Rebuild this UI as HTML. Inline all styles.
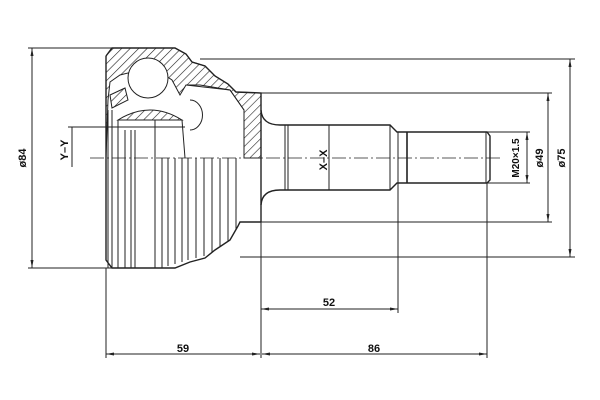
<!DOCTYPE html>
<html><head><style>html,body{margin:0;padding:0;background:#fff}svg{display:block}</style></head><body>
<svg width="600" height="400" viewBox="0 0 600 400" xmlns="http://www.w3.org/2000/svg" font-family="Liberation Sans, sans-serif">
<defs>
<pattern id="h" width="6" height="6" patternUnits="userSpaceOnUse" patternTransform="rotate(45)">
<line x1="0" y1="0" x2="0" y2="6" stroke="#222" stroke-width="1.2"/></pattern>
<marker id="a" markerWidth="8" markerHeight="6" refX="8" refY="3" orient="auto-start-reverse" markerUnits="userSpaceOnUse"><path d="M0,1.5 L8,3 L0,4.5z" fill="#222"/></marker>
</defs>
<g stroke="#222" fill="none" stroke-width="1">
<!-- extension lines -->
<line x1="28" y1="48" x2="175" y2="48"/>
<line x1="28" y1="268" x2="175" y2="268"/>
<line x1="200" y1="59" x2="575" y2="59"/>
<line x1="261" y1="93" x2="552" y2="93"/>
<line x1="261" y1="222" x2="552" y2="222"/>
<line x1="240" y1="257" x2="575" y2="257"/>
<line x1="487" y1="132" x2="530" y2="132"/>
<line x1="487" y1="183" x2="530" y2="183"/>
<line x1="106" y1="268" x2="106" y2="358"/>
<line x1="261" y1="222" x2="261" y2="358"/>
<line x1="398" y1="183" x2="398" y2="313"/>
<line x1="487" y1="183" x2="487" y2="358"/>
<!-- dims -->
<line x1="32" y1="48" x2="32" y2="268" marker-start="url(#a)" marker-end="url(#a)"/>
<line x1="570" y1="59" x2="570" y2="257" marker-start="url(#a)" marker-end="url(#a)"/>
<line x1="548" y1="93" x2="548" y2="222" marker-start="url(#a)" marker-end="url(#a)"/>
<line x1="527" y1="132" x2="527" y2="183" marker-start="url(#a)" marker-end="url(#a)"/>
<line x1="261" y1="309" x2="398" y2="309" marker-start="url(#a)" marker-end="url(#a)"/>
<line x1="106" y1="354" x2="260" y2="354" marker-start="url(#a)" marker-end="url(#a)"/>
<line x1="262" y1="354" x2="487" y2="354" marker-start="url(#a)" marker-end="url(#a)"/>
<!-- Y-Y -->
<line x1="68" y1="127" x2="185" y2="127"/>
<line x1="72" y1="127" x2="72" y2="167"/>
<!-- centerline -->
<line x1="90" y1="158" x2="500" y2="158" stroke-dasharray="14,3,2,3" stroke-width="0.8"/>
<!-- body hatched section -->
<path d="M106,158 L106,56 L112,48 L175,48 L186,54 L192,62 L205,66 L215,76 L228,84 L236,92 L261,93 L261,158 L244,158 L244,110 L230,90 L200,85 L186,85 L180,95 L172,80 L160,72 L140,70 L120,75 L110,82 L108,100 L106,158z" fill="url(#h)"/>
<g stroke-width="1.4">
<path d="M106,56 L112,48 L175,48 L186,54 L192,62 L205,66 L215,76 L228,84 L236,92 L261,93 L261,222"/>
<path d="M106,56 L106,260 L112,268 L175,268 L190,262 L205,258 L215,250 L230,240 L238,226 L240,222 L261,222"/>
</g>
<path d="M186,85 L230,90 L244,110 L244,158"/>
<!-- ball -->
<circle cx="148" cy="78" r="20" fill="#fff"/>
<path d="M118,120 Q150,100 182,120 Z" fill="url(#h)"/>
<path d="M118,120 L182,120 L185,158"/>
<path d="M190,100 A10,12 0 0 1 190,130"/>
<path d="M110,95 L125,88 L128,100 L112,108 Z" fill="url(#h)"/>
<line x1="108" y1="110" x2="108" y2="268"/>
<line x1="112" y1="110" x2="112" y2="268"/>
<line x1="118" y1="120" x2="118" y2="268"/>
<line x1="125" y1="130" x2="125" y2="268"/>
<line x1="131" y1="130" x2="131" y2="268"/>
<line x1="135" y1="130" x2="135" y2="268"/>
<line x1="155" y1="120" x2="155" y2="268"/>
<line x1="162" y1="158" x2="162" y2="268"/>
<line x1="168" y1="158" x2="168" y2="266"/>
<line x1="175" y1="158" x2="175" y2="264"/>
<line x1="182" y1="158" x2="182" y2="262"/>
<line x1="188" y1="158" x2="188" y2="260"/>
<line x1="196" y1="158" x2="196" y2="258"/>
<line x1="204" y1="158" x2="204" y2="256"/>
<line x1="212" y1="158" x2="212" y2="252"/>
<line x1="220" y1="158" x2="220" y2="246"/>
<line x1="228" y1="158" x2="228" y2="242"/>
<line x1="236" y1="158" x2="236" y2="230"/>
<!-- shaft -->
<path d="M261,110 Q262,125 280,125 L390,125 L397,132 L487,132 L490,136 L490,180 L487,183 L397,183 L390,190 L280,190 Q262,190 261,205" stroke-width="1.4"/>
<line x1="285" y1="125" x2="285" y2="190"/>
<line x1="288" y1="125" x2="288" y2="190"/>
<line x1="329" y1="125" x2="329" y2="190"/>
<line x1="390" y1="125" x2="390" y2="190"/>
<line x1="398" y1="132" x2="398" y2="183"/>
<line x1="407" y1="132" x2="407" y2="183" stroke-width="1.6"/>
<line x1="486" y1="132" x2="486" y2="183"/>
</g>
<g fill="#111" font-size="11" font-weight="bold" text-anchor="middle">
<text x="183" y="352">59</text>
<text x="374" y="352">86</text>
<text x="329" y="306">52</text>
<text transform="translate(26,158) rotate(-90)">ø84</text>
<text transform="translate(68,150) rotate(-90)">Y–Y</text>
<text transform="translate(327,160) rotate(-90)">X–X</text>
<text transform="translate(519,158) rotate(-90)" font-size="10">M20×1.5</text>
<text transform="translate(543,158) rotate(-90)">ø49</text>
<text transform="translate(565,158) rotate(-90)">ø75</text>
</g>
</svg>
</body></html>
